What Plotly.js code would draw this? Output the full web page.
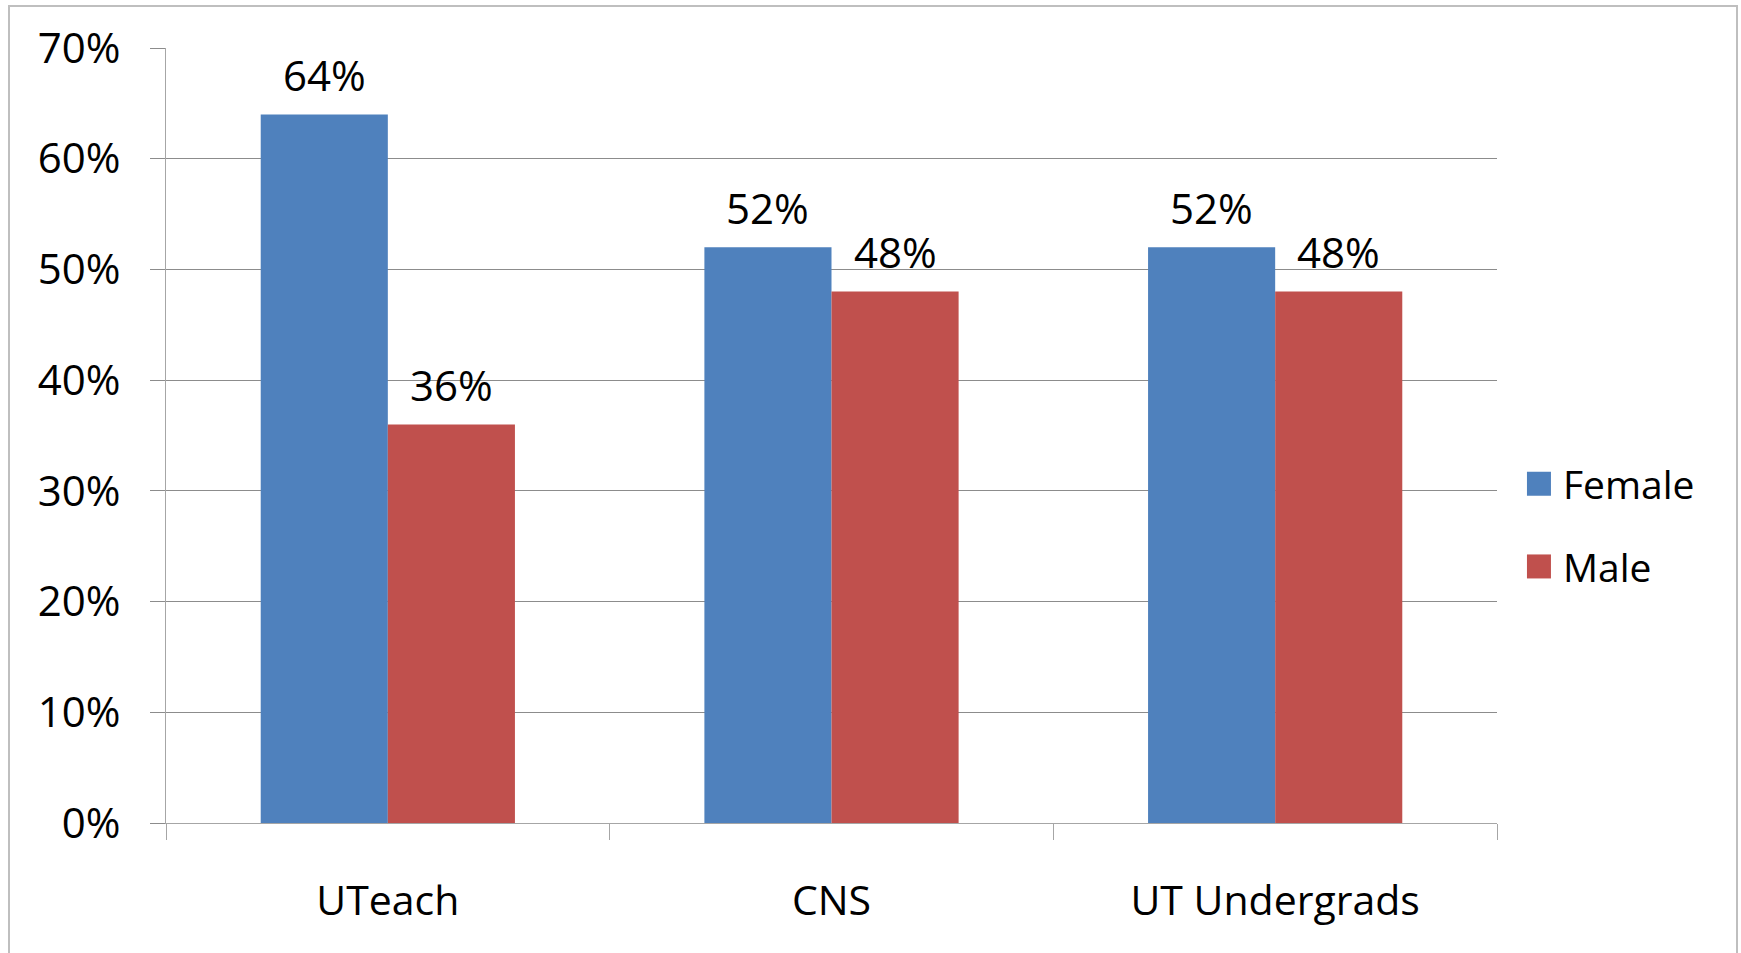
<!DOCTYPE html>
<html>
<head>
<meta charset="utf-8">
<script src="https://cdn.plot.ly/plotly-3.0.1.min.js"></script>
<style>
  html, body { margin: 0; padding: 0; background: #ffffff; overflow: hidden; }
  #chart { width: 1741px; height: 953px; }
  #frame { position: absolute; left: 8px; top: 5px; width: 1726px; height: 960px; border: 2px solid #bfbfbf; border-bottom: none; pointer-events: none; }
  /* larger square legend swatches, as in the reference */
  #chart .legend .legendpoints path { d: path("M8,12H-16V-12H8Z"); }
</style>
</head>
<body>
<div id="chart"></div>
<div id="frame"></div>
<script>
const categories = ["UTeach", "CNS", "UT Undergrads"];
const femaleValues = [0.64, 0.52, 0.52];
const maleValues = [0.36, 0.48, 0.48];
const seriesNames = ["Female", "Male"];
const yTickValues = [0, 0.1, 0.2, 0.3, 0.4, 0.5, 0.6, 0.7];

const FONT = "Open Sans, Noto Sans, sans-serif";
const PCT_FS = 42;
const CAT_FS = 41;
const LEG_FS = 39;
const BARGAP = 0.427;

const traces = [
  {
    type: "bar", name: seriesNames[0], x: categories, y: femaleValues,
    legendgroup: "f",
    marker: { color: "#4F81BD", line: { width: 0 } }
  },
  {
    type: "bar", name: seriesNames[1], x: categories, y: maleValues,
    legendgroup: "m",
    marker: { color: "#C0504D", line: { width: 0 } }
  }
];

// data labels placed on the bars' centres (category index +/- a quarter of the group width)
const half = (1 - BARGAP) / 4;
const annotations = [];
[femaleValues, maleValues].forEach((vals, s) => {
  vals.forEach((v, i) => {
    annotations.push({
      xref: "x", yref: "y",
      x: i + (s === 0 ? -half : half), y: v,
      text: Math.round(v * 100) + "%",
      showarrow: false, xanchor: "center", yanchor: "middle", yshift: 40,
      font: { family: FONT, size: PCT_FS, color: "#000000" }
    });
  });
});

const layout = {
  width: 1741, height: 953,
  margin: { l: 166, r: 244, t: 48, b: 130, pad: 0 },
  paper_bgcolor: "#ffffff", plot_bgcolor: "#ffffff",
  font: { family: FONT, size: PCT_FS, color: "#000000" },
  barmode: "group",
  bargap: BARGAP, bargroupgap: 0,
  showlegend: true,
  legend: {
    x: 1.0195, xanchor: "left", y: 0.384, yanchor: "middle",
    font: { family: FONT, size: LEG_FS, color: "#000000" },
    tracegroupgap: 29, bgcolor: "rgba(0,0,0,0)"
  },
  annotations: annotations,
  xaxis: {
    type: "category",
    tickson: "boundaries", ticks: "outside", ticklen: 16, tickcolor: "#a6a6a6", tickwidth: 1,
    showline: true, linecolor: "#a6a6a6", linewidth: 1,
    showgrid: false, zeroline: false,
    ticklabelstandoff: 42,
    tickfont: { family: FONT, size: CAT_FS, color: "#000000" }
  },
  yaxis: {
    range: [0, 0.7], tickvals: yTickValues, tickformat: ".0%",
    ticks: "outside", ticklen: 15, tickcolor: "#8c8c8c", tickwidth: 1,
    showgrid: true, gridcolor: "#8c8c8c", gridwidth: 1,
    showline: true, linecolor: "#a6a6a6", linewidth: 1,
    zeroline: false,
    ticklabelstandoff: 21,
    tickfont: { family: FONT, size: PCT_FS, color: "#000000" }
  }
};

Plotly.newPlot("chart", traces, layout, { displayModeBar: false, staticPlot: true });
</script>
</body>
</html>
